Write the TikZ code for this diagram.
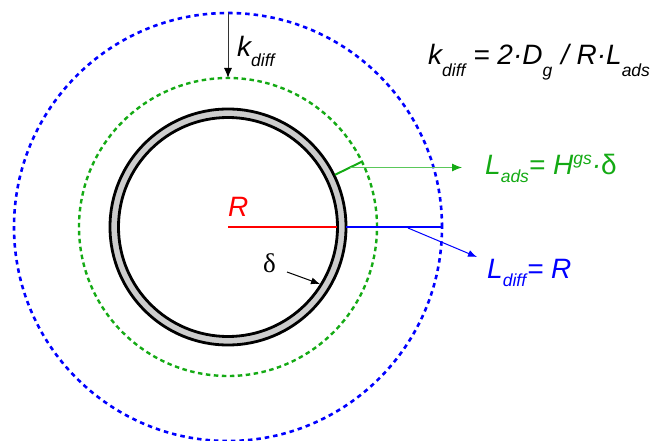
\documentclass[tikz,border=0pt]{standalone}
\usepackage{fontspec}
\setmainfont{Liberation Sans}
\newfontfamily\serifdelta{Liberation Serif}
\usetikzlibrary{arrows.meta}
\definecolor{myblue}{RGB}{0,0,255}
\definecolor{mygreen}{RGB}{20,170,20}
\definecolor{lightgreen}{RGB}{90,200,90}
\definecolor{myred}{RGB}{255,0,0}
\definecolor{ringgray}{RGB}{205,205,205}
\newcommand\lowtext[2]{\raisebox{-#1}{\fontsize{17.5}{18}\selectfont #2}}
\newcommand\hightext[2]{\raisebox{#1}{\fontsize{17.5}{18}\selectfont #2}}
\tikzset{
  bigtext/.style={anchor=base west, inner sep=0pt, font=\fontsize{28}{30}\selectfont\itshape},
  thinarrow/.style={line width=1pt, -{Latex[length=9pt,width=7pt]}},
}
\begin{document}
\begin{tikzpicture}[x=1pt,y=-1pt,line join=round]
\useasboundingbox (0,0) rectangle (653,441);
\coordinate (c) at (228,227);
% outer diffusion circle
\draw[myblue, line width=2.6pt, dash pattern=on 4.5pt off 4pt] (c) circle[radius=214pt];
% adsorption circle
\draw[mygreen, line width=2.4pt, dash pattern=on 4.5pt off 3.5pt] (c) circle[radius=149pt];
% ring
\fill[ringgray, even odd rule] (c) circle[radius=117pt] (c) circle[radius=110pt];
\draw[line width=2.8pt] (c) circle[radius=118pt];
\draw[line width=2.8pt] (c) circle[radius=109.5pt];
% radius lines
\coordinate (ringin) at (336.5,227);
\coordinate (ringout) at (346,227);
\coordinate (blueend) at (443,227);
\draw[myred, line width=2.5pt] (c) -- (ringin);
\draw[myblue, line width=2.5pt] (ringout) -- (blueend);
% green thickness tick
\coordinate (gt1) at (335,174.8);
\coordinate (gt2) at (362.8,161.2);
\draw[mygreen, line width=2pt] (gt1) -- (gt2);
% arrows
\coordinate (ga0) at (350,167.5);
\coordinate (ga1) at (462,167.5);
\draw[lightgreen, thinarrow, -{Latex[length=10pt,width=8pt,color=mygreen]}] (ga0) -- (ga1);
\coordinate (ba0) at (408,228);
\coordinate (ba1) at (477,257);
\draw[myblue, thinarrow] (ba0) -- (ba1);
\coordinate (ka0) at (228,13);
\coordinate (ka1) at (228,78);
\draw[black!80, thinarrow, -{Latex[length=10pt,width=8pt,color=black]}] (ka0) -- (ka1);
\coordinate (da0) at (287,272);
\coordinate (da1) at (320,284);
\draw[black, thinarrow] (da0) -- (da1);
% labels
\node[bigtext] (kf) at (428,65) {k\lowtext{12pt}{diff} = 2·D\lowtext{12pt}{g}\kern1pt{} / R·L\lowtext{12pt}{ads}};
\node[bigtext] (kl) at (237,57) {k\lowtext{10pt}{diff}};
\node[bigtext, mygreen] (la) at (485,175) {L\lowtext{8pt}{ads}= H\hightext{10.5pt}{gs}·{\upshape δ}};
\node[bigtext, myblue] (ld) at (487,278) {L\lowtext{8pt}{diff}\kern1pt= R};
\node[bigtext, myred] (rl) at (228,216) {R};
\node[anchor=base west, inner sep=0pt, font=\fontsize{27}{30}\selectfont\serifdelta] (dl) at (263,272) {δ};
\end{tikzpicture}
\end{document}
